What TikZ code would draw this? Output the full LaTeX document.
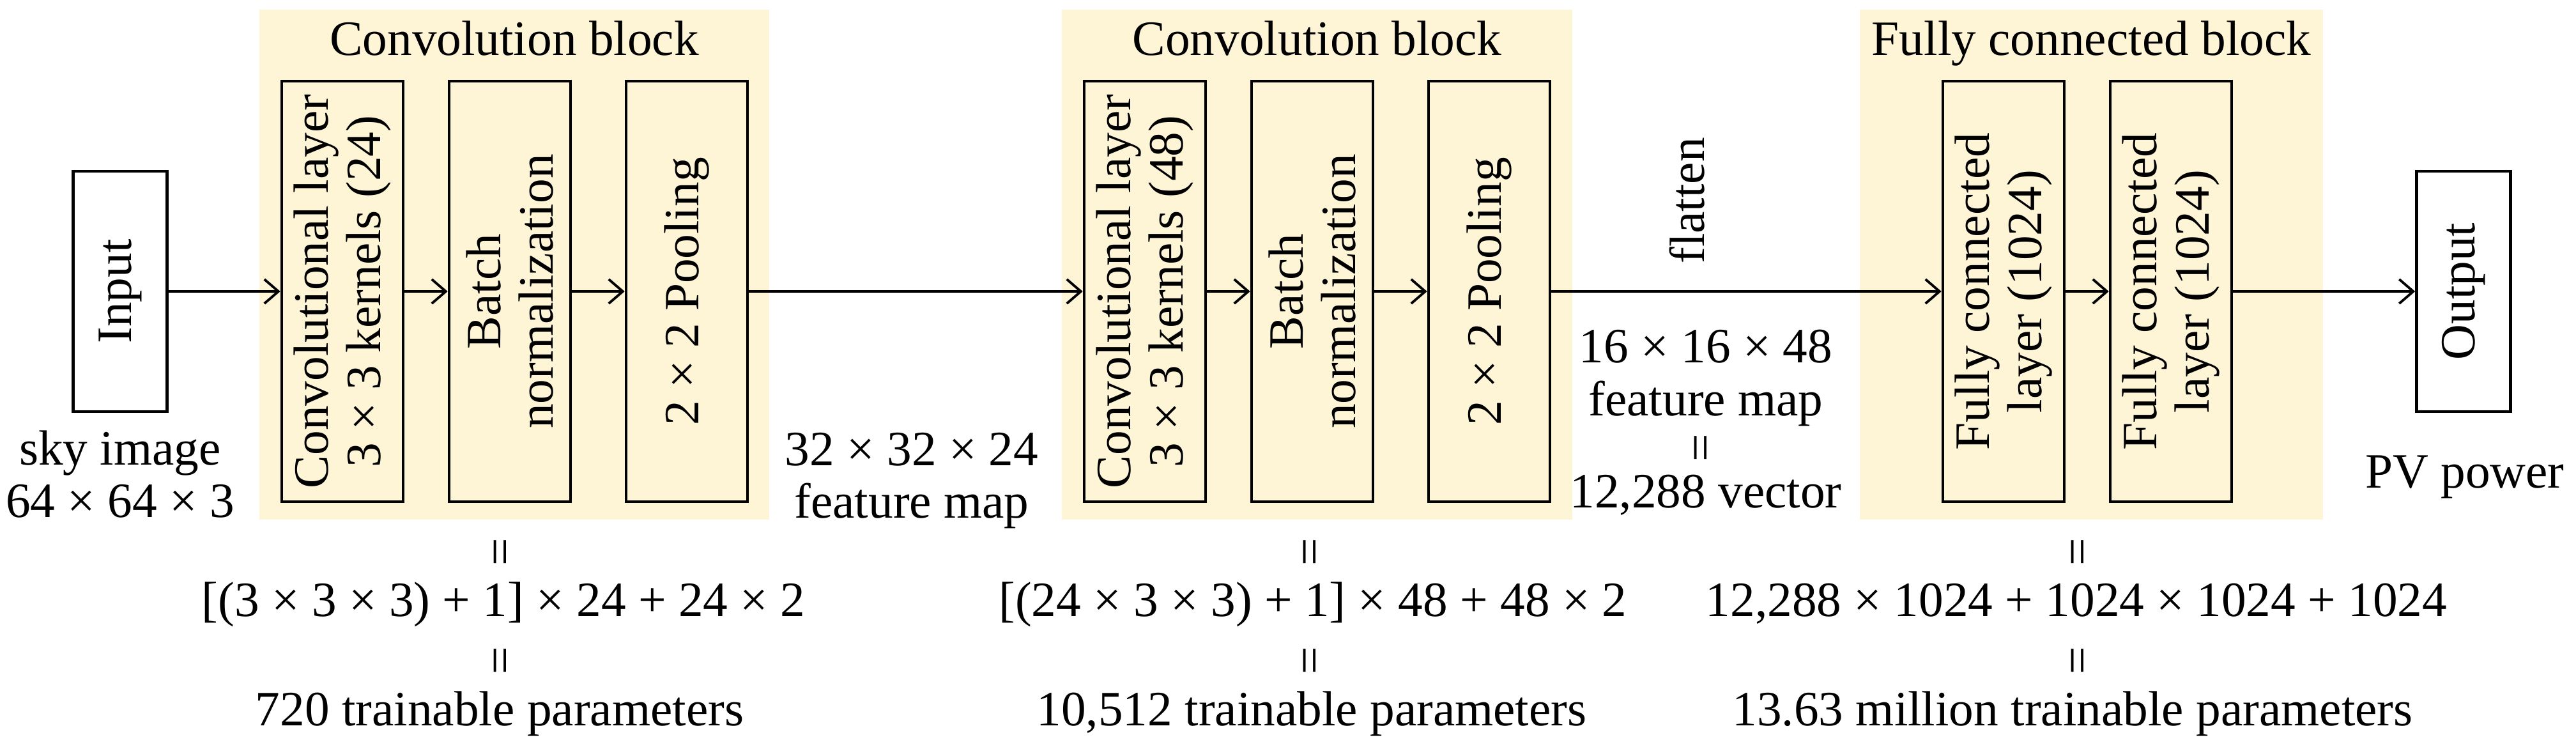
\documentclass[tikz,border=0pt]{standalone}
\usepackage{fontspec}
\setmainfont{Liberation Serif}
\usetikzlibrary{arrows.meta}
\definecolor{blockbg}{RGB}{254,244,214}

\begin{document}
\begin{tikzpicture}[font=\fontsize{22}{23.5}\selectfont,
    >={Straight Barb[length=2.2mm, width=3.8mm]},
    layer/.style={draw, line width=1.3pt, rotate=90, align=center, minimum width=6.58cm, minimum height=1.9cm, inner sep=0pt},
    io/.style={draw, line width=1.3pt, rotate=90, minimum width=3.76cm, minimum height=1.47cm, inner sep=0pt},
    block/.style={fill=blockbg, minimum height=7.98cm, inner sep=0pt},
    eq/.style={rotate=90, inner sep=0pt},
    link/.style={->, line width=1.1pt}]

    \useasboundingbox (0, 0) rectangle (40.32, 11.71);

    % yellow blocks
    \node (blk1) [block, minimum width=7.98cm] at (8.05, 7.57) {};
    \node (blk2) [block, minimum width=7.99cm] at (20.615, 7.57) {};
    \node (blk3) [block, minimum width=7.25cm] at (32.735, 7.57) {};
    \node (t1) [anchor=base] at ([yshift=-0.72cm]blk1.north) {Convolution block};
    \node (t2) [anchor=base] at ([yshift=-0.72cm]blk2.north) {Convolution block};
    \node (t3) [anchor=base] at ([yshift=-0.72cm]blk3.north) {Fully connected block};

    % layers
    \node (input) [io] at (1.88, 7.15) {Input};
    \node (conv1) [layer] at (5.36, 7.15) {Convolutional layer\\3 × 3 kernels (24)};
    \node (bn1) [layer] at (7.98, 7.15) {Batch\\normalization};
    \node (pool1) [layer] at (10.75, 7.15) {2 × 2 Pooling};
    \node (conv2) [layer] at (17.92, 7.15) {Convolutional layer\\3 × 3 kernels (48)};
    \node (bn2) [layer] at (20.54, 7.15) {Batch\\normalization};
    \node (pool2) [layer] at (23.31, 7.15) {2 × 2 Pooling};
    \node (fc1) [layer] at (31.36, 7.15) {Fully connected\\layer (1024)};
    \node (fc2) [layer] at (33.98, 7.15) {Fully connected\\layer (1024)};
    \node (output) [io] at (38.56, 7.15) {Output};

    \draw[link] (input) -- (conv1);
    \draw[link] (conv1) -- (bn1);
    \draw[link] (bn1) -- (pool1);
    \draw[link] (pool1) -- (conv2);
    \draw[link] (conv2) -- (bn2);
    \draw[link] (bn2) -- (pool2);
    \draw[link] (pool2) -- (fc1);
    \draw[link] (fc1) -- (fc2);
    \draw[link] (fc2) -- (output);

    % sizes between the layers
    \node (sky) [align=center] at (1.88, 4.29) {sky image\\64 × 64 × 3};
    \node (fmap1) [align=center] at (14.27, 4.19) {32 × 32 × 24\\feature map};
    \node (flat) [rotate=90] at (26.41, 8.57) {flatten};
    \node (fmap2) [align=center] at (26.70, 5.10) {16 × 16 × 48\\feature map\\[-3pt]\rotatebox{90}{=}\\[-3pt]12,288 vector};
    \node (pv) at (38.58, 4.25) {PV power};

    % parameter counts
    \node (eq1a) [eq] at (7.91, 3.07) {=};
    \node (cnt1) [anchor=base] at (7.88, 2.07) {[(3 × 3 × 3) + 1] × 24 + 24 × 2};
    \node (eq1b) [eq] at (7.91, 1.37) {=};
    \node (par1) [anchor=base] at (7.82, 0.36) {720 trainable parameters};

    \node (eq2a) [eq] at (20.58, 3.07) {=};
    \node (cnt2) [anchor=base] at (20.55, 2.07) {[(24 × 3 × 3) + 1] × 48 + 48 × 2};
    \node (eq2b) [eq] at (20.58, 1.37) {=};
    \node (par2) [anchor=base] at (20.53, 0.36) {10,512 trainable parameters};

    \node (eq3a) [eq] at (32.60, 3.07) {=};
    \node (cnt3) [anchor=base] at (32.50, 2.07) {12,288 × 1024 + 1024 × 1024 + 1024};
    \node (eq3b) [eq] at (32.60, 1.37) {=};
    \node (par3) [anchor=base] at (32.44, 0.36) {13.63 million trainable parameters};
\end{tikzpicture}
\end{document}
